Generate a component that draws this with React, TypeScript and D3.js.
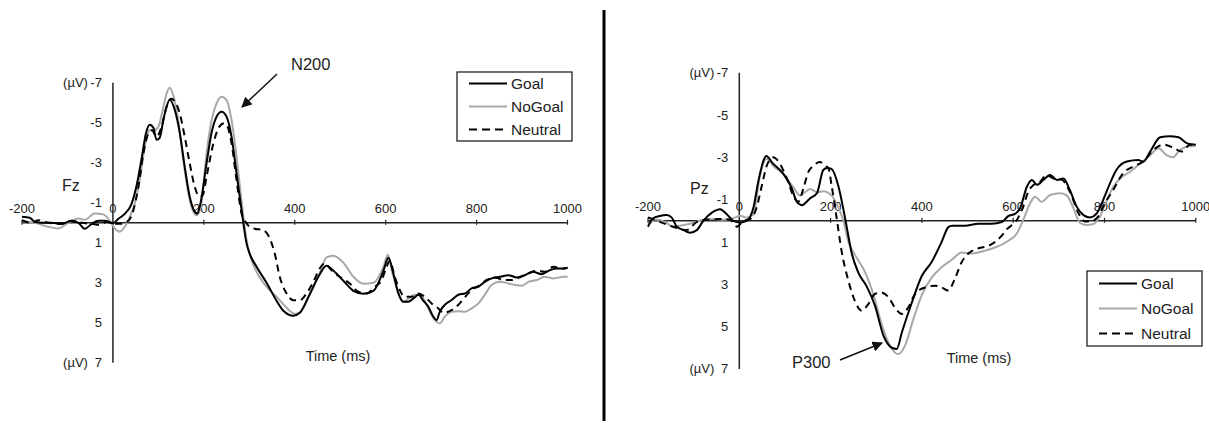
import React from "react";
import * as d3 from "d3";

// time axis / voltage axis
const timeTicks = [-200, 0, 200, 400, 600, 800, 1000];
const uvTicks = [-7, -5, -3, -1, 1, 3, 5, 7];
const seriesNames = ["Goal", "NoGoal", "Neutral"];

// Fz  [ms, µV]
const fzGoal: [number, number][] = [
  [-200, -0.3], [-183, -0.25], [-172, -0.05], [-157, 0], [-135, 0], [-113, 0.05], [-91, -0.1], [-76, 0],
  [-62, 0.3], [-47, 0.06], [-32, -0.1], [-18, -0.1], [0, 0.02], [12, -0.2], [26, -0.45], [41, -0.95],
  [52, -1.85], [63, -3.2], [73, -4.5], [81, -4.9], [89, -4.75], [96, -4.15], [103, -4.25], [111, -5.15],
  [118, -5.8], [125, -6.15], [136, -5.65], [147, -4.5], [158, -2.8], [169, -1.3], [180, -0.55], [185, -0.45],
  [192, -0.9], [206, -2.97], [217, -4.5], [228, -5.3], [239, -5.55], [250, -5.3], [261, -4.3], [272, -2.47],
  [281, -0.97], [287, 0.03], [294, 1.03], [301, 1.55], [316, 2.2], [338, 3.0], [360, 3.9], [375, 4.4],
  [397, 4.65], [411, 4.5], [433, 3.57], [455, 2.57], [470, 2.15], [485, 2.4], [507, 2.9], [529, 3.4],
  [551, 3.55], [573, 3.4], [595, 2.4], [606, 1.75], [617, 2.53], [628, 3.53], [639, 3.95], [650, 3.95],
  [661, 3.78], [672, 3.6], [683, 3.9], [694, 4.2], [705, 4.7], [712, 4.87], [719, 4.45], [730, 4.1],
  [745, 3.86], [760, 3.6], [775, 3.53], [789, 3.28], [804, 3.2], [818, 2.95], [833, 2.78], [851, 2.7],
  [870, 2.62], [888, 2.73], [906, 2.62], [924, 2.45], [943, 2.57], [961, 2.37], [976, 2.28], [991, 2.28],
  [1000, 2.25],
];
const fzNoGoal: [number, number][] = [
  [-200, -0.08], [-172, 0], [-142, 0.2], [-120, 0.28], [-98, 0], [-76, -0.22], [-62, -0.15], [-40, -0.47],
  [-21, -0.42], [-7, -0.1], [4, 0.28], [15, 0.45], [26, 0.2], [37, -0.3], [48, -0.97], [59, -2.13],
  [70, -3.8], [81, -4.63], [91, -4.63], [100, -4.8], [111, -5.8], [120, -6.6], [125, -6.75], [133, -6.35],
  [144, -5.1], [155, -3.1], [166, -1.45], [177, -0.55], [184, -0.38], [193, -0.75], [206, -3.47], [217, -5.13],
  [228, -5.97], [239, -6.3], [250, -6.13], [261, -5.13], [272, -3.3], [281, -1.47], [287, -0.3], [294, 0.87],
  [305, 1.87], [316, 2.45], [338, 3.2], [360, 3.7], [380, 4.2], [400, 4.55], [411, 4.5], [433, 3.57],
  [455, 2.5], [470, 1.73], [485, 1.65], [507, 2.0], [529, 2.7], [551, 3.05], [573, 3.0], [595, 2.2],
  [605, 1.6], [613, 2.36], [628, 3.53], [639, 3.95], [650, 3.8], [664, 3.6], [675, 3.6], [686, 3.9],
  [697, 4.45], [708, 4.87], [719, 5.03], [730, 4.7], [745, 4.45], [760, 4.42], [775, 4.45], [789, 4.28],
  [804, 4.03], [818, 3.6], [833, 3.11], [851, 2.95], [870, 3.03], [884, 3.11], [899, 3.15], [914, 2.95],
  [932, 2.86], [950, 2.7], [969, 2.78], [991, 2.7], [1000, 2.7],
];
const fzNeutral: [number, number][] = [
  [-200, -0.13], [-179, 0], [-164, -0.13], [-142, 0], [-113, 0.05], [-91, -0.1], [-69, 0], [-47, 0.05],
  [-29, 0.1], [-13, -0.05], [0, 0.05], [19, 0.05], [34, -0.1], [45, -0.63], [56, -1.8], [67, -3.47],
  [78, -4.47], [86, -4.63], [96, -4.3], [107, -4.8], [118, -5.8], [128, -6.2], [137, -6.05], [147, -5.47],
  [158, -4.3], [169, -2.97], [180, -1.8], [191, -1.3], [198, -1.4], [206, -2.3], [221, -3.97], [232, -4.72],
  [243, -4.97], [250, -4.9], [261, -3.97], [272, -2.13], [283, -0.47], [294, 0.03], [309, 0.28], [331, 0.37],
  [345, 0.78], [356, 1.53], [367, 2.7], [382, 3.53], [397, 3.87], [411, 3.87], [426, 3.53], [441, 2.95],
  [455, 2.28], [466, 2.03], [481, 2.37], [499, 2.7], [521, 3.03], [540, 3.45], [558, 3.53], [576, 3.2],
  [591, 2.87], [602, 2.2], [609, 1.9], [620, 2.7], [631, 3.36], [642, 3.7], [657, 3.7], [672, 3.53],
  [686, 3.7], [701, 4.03], [716, 4.28], [727, 4.5], [745, 4.37], [760, 4.1], [775, 3.7], [789, 3.36],
  [807, 3.11], [822, 2.86], [840, 2.73], [859, 2.86], [877, 2.86], [895, 2.73], [914, 2.53], [932, 2.4],
  [950, 2.45], [969, 2.2], [987, 2.3], [1000, 2.25],
];

// Pz  [ms, µV]
const pzGoal: [number, number][] = [
  [-200, 0.28], [-189, -0.12], [-174, -0.23], [-159, -0.27], [-148, -0.15], [-137, 0.28], [-122, 0.44], [-108, 0.56],
  [-93, 0.44], [-79, 0], [-60, -0.39], [-42, -0.55], [-28, -0.32], [-13, 0], [2, 0.08], [16, 0],
  [31, -0.63], [42, -1.9], [53, -2.85], [59, -3.06], [74, -2.7], [96, -2.24], [115, -1.53], [126, -0.9],
  [137, -0.74], [155, -1.06], [170, -1.3], [184, -2.4], [192, -2.5], [202, -2.45], [217, -1.64], [228, -0.54],
  [235, 0.25], [246, 1.51], [261, 2.46], [279, 3.1], [297, 4.0], [316, 5.44], [334, 6.0], [345, 6.06],
  [356, 5.28], [378, 3.86], [400, 2.6], [421, 1.96], [443, 1.01], [458, 0.3], [466, 0.23], [494, 0.23],
  [524, 0.14], [553, 0.14], [575, 0.06], [589, -0.22], [604, -0.33], [615, -0.59], [630, -1.61], [641, -1.93],
  [652, -1.7], [666, -1.93], [681, -2.17], [696, -1.93], [710, -2.0], [724, -1.46], [739, -0.67], [754, -0.27],
  [768, -0.16], [783, -0.35], [797, -0.98], [812, -1.77], [826, -2.4], [849, -2.8], [874, -2.87], [885, -2.8],
  [900, -3.27], [922, -3.95], [943, -4.0], [962, -3.95], [981, -3.66], [1000, -3.6],
];
const pzNoGoal: [number, number][] = [
  [-200, 0.2], [-182, -0.06], [-163, 0.05], [-145, 0.28], [-122, 0.2], [-101, 0.1], [-79, -0.05], [-57, -0.08],
  [-35, -0.05], [-13, -0.12], [2, -0.24], [16, -0.15], [31, -0.3], [45, -2.1], [60, -2.93], [74, -2.6],
  [96, -2.2], [118, -1.6], [133, -1.2], [144, -1.35], [155, -1.5], [170, -1.35], [184, -1.4], [202, -1.2],
  [217, -0.63], [228, 0], [239, 1.0], [253, 1.6], [275, 2.4], [294, 3.5], [312, 4.9], [330, 5.9],
  [348, 6.3], [363, 5.9], [382, 4.6], [400, 3.5], [421, 2.7], [443, 2.2], [466, 1.83], [487, 1.5],
  [509, 1.55], [531, 1.45], [556, 1.3], [586, 0.99], [608, 0.6], [622, -0.04], [637, -0.83], [648, -1.14],
  [662, -0.9], [681, -1.22], [703, -1.3], [717, -1.2], [732, -0.6], [746, 0.09], [761, 0.2], [776, 0.15],
  [790, -0.2], [805, -0.98], [819, -1.6], [834, -2.0], [856, -2.32], [878, -2.7], [900, -3.1], [918, -3.43],
  [936, -3.1], [950, -3.0], [965, -3.35], [981, -3.5], [1000, -3.55],
];
const pzNeutral: [number, number][] = [
  [-200, -0.16], [-174, 0.05], [-145, 0.28], [-115, 0.44], [-93, 0.05], [-71, -0.05], [-42, -0.08], [-20, -0.05],
  [-5, 0.28], [9, 0], [23, -0.08], [38, -0.63], [49, -1.63], [60, -2.6], [67, -2.9], [74, -3.0],
  [89, -2.7], [104, -2.0], [118, -1.2], [129, -0.9], [140, -1.5], [151, -2.3], [162, -2.6], [177, -2.78],
  [188, -2.6], [195, -2.5], [202, -1.7], [213, -0.16], [224, 1.42], [239, 2.84], [253, 3.77], [268, 4.25],
  [283, 3.93], [297, 3.46], [312, 3.4], [327, 3.62], [341, 4.1], [356, 4.4], [370, 4.1], [385, 3.46],
  [407, 3.15], [429, 3.07], [443, 3.15], [458, 3.3], [472, 2.75], [487, 1.96], [502, 1.55], [524, 1.3],
  [546, 1.18], [560, 1.0], [575, 0.7], [586, 0.4], [608, -0.04], [622, -0.67], [633, -1.38], [645, -1.7],
  [659, -1.85], [673, -2.17], [688, -2.0], [706, -1.95], [724, -1.38], [743, -0.36], [757, 0.03], [772, 0],
  [786, -0.2], [801, -0.83], [819, -1.46], [841, -2.25], [863, -2.57], [885, -2.8], [907, -3.35], [929, -3.6],
  [951, -3.45], [969, -3.27], [987, -3.6], [1000, -3.55],
];

const FONT = "'Liberation Sans', Arial, sans-serif";
const styles = [
  { stroke: "#000", dash: undefined as string | undefined },
  { stroke: "#a8a8a8", dash: undefined as string | undefined },
  { stroke: "#000", dash: "7,5" },
];

type PanelProps = {
  site: string;
  data: [number, number][][];
  xRange: [number, number];
  yRange: [number, number];
  siteXY: [number, number];
  timeXY: [number, number];
  legend: { x: number; y: number; h: number };
  note: { text: string; tx: number; ty: number; from: [number, number]; to: [number, number] };
};

const Panel = ({ site, data, xRange, yRange, siteXY, timeXY, legend, note }: PanelProps) => {
  const x = d3.scaleLinear().domain([-200, 1000]).range(xRange);
  const y = d3.scaleLinear().domain([-7, 7]).range(yRange);
  const line = d3
    .line<[number, number]>()
    .x((d) => x(d[0]))
    .y((d) => y(d[1]))
    .curve(d3.curveMonotoneX);
  const x0 = x(0);
  const y0 = y(0);
  const step = legend.h / 3;
  // draw gray first, then dashed, black on top
  const order = [1, 2, 0];

  return (
    <g fontFamily={FONT} fill="#222">
      {/* axes */}
      <line x1={x0} x2={x0} y1={y(-7)} y2={y(7)} stroke="#222" strokeWidth={1.5} />
      <line x1={x(-200)} x2={x(1000)} y1={y0} y2={y0} stroke="#222" strokeWidth={1.5} />
      {timeTicks.map((t) => (
        <g key={t}>
          {t !== 0 && <line x1={x(t)} x2={x(t)} y1={y0 - 3} y2={y0 + 2} stroke="#222" strokeWidth={1.2} />}
          <text x={x(t)} y={y0 - 10} fontSize={13} textAnchor="middle">
            {t}
          </text>
        </g>
      ))}
      {uvTicks.map((v) => (
        <text key={v} x={x0 - 11} y={y(v)} dy="0.35em" fontSize={13} textAnchor="end">
          {v}
        </text>
      ))}
      <text x={x0 - 25} y={y(-7)} dy="0.35em" fontSize={13} textAnchor="end">(µV)</text>
      <text x={x0 - 25} y={y(7)} dy="0.35em" fontSize={13} textAnchor="end">(µV)</text>
      <text x={siteXY[0]} y={siteXY[1]} fontSize={16}>{site}</text>
      <text x={timeXY[0]} y={timeXY[1]} fontSize={14.5} textAnchor="middle">Time (ms)</text>

      {/* waveforms */}
      {order.map((i) => (
        <path
          key={i}
          d={line(data[i]) ?? ""}
          fill="none"
          stroke={styles[i].stroke}
          strokeWidth={2}
          strokeDasharray={styles[i].dash}
        />
      ))}

      {/* annotation */}
      <text x={note.tx} y={note.ty} fontSize={16.5}>{note.text}</text>
      <line
        x1={note.from[0]}
        y1={note.from[1]}
        x2={note.to[0]}
        y2={note.to[1]}
        stroke="#111"
        strokeWidth={1.5}
        markerEnd="url(#arrow)"
      />

      {/* legend */}
      <rect x={legend.x} y={legend.y} width={115} height={legend.h} fill="#fff" stroke="#222" strokeWidth={1.3} />
      {seriesNames.map((name, i) => {
        const ly = legend.y + step * (i + 0.5);
        return (
          <g key={name}>
            <line
              x1={legend.x + 12}
              x2={legend.x + 50}
              y1={ly}
              y2={ly}
              stroke={styles[i].stroke}
              strokeWidth={2.2}
              strokeDasharray={styles[i].dash ? "8,5" : undefined}
            />
            <text x={legend.x + 54} y={ly} dy="0.35em" fontSize={15.5}>
              {name}
            </text>
          </g>
        );
      })}
    </g>
  );
};

export default function App() {
  return (
    <svg
      width={1209}
      height={423}
      style={{ position: "absolute", left: 0, top: 0, background: "#fff" }}
    >
      <defs>
        <marker id="arrow" viewBox="0 0 10 10" refX={9} refY={5} markerWidth={7} markerHeight={7} orient="auto">
          <path d="M0,0 L10,5 L0,10 z" fill="#111" />
        </marker>
      </defs>
      <rect width={1209} height={423} fill="#fff" />
      <Panel
        site="Fz"
        data={[fzGoal, fzNoGoal, fzNeutral]}
        xRange={[22, 567.5]}
        yRange={[82.8, 362.8]}
        siteXY={[62, 191]}
        timeXY={[338, 361]}
        legend={{ x: 457, y: 72, h: 69 }}
        note={{ text: "N200", tx: 291, ty: 70, from: [277, 74], to: [242, 107] }}
      />
      <Panel
        site="Pz"
        data={[pzGoal, pzNoGoal, pzNeutral]}
        xRange={[648, 1195.8]}
        yRange={[72.7, 368.9]}
        siteXY={[690, 194]}
        timeXY={[979, 363]}
        legend={{ x: 1087, y: 271, h: 75 }}
        note={{ text: "P300", tx: 792, ty: 368, from: [840, 360], to: [882, 343] }}
      />
      <line x1={604} x2={604} y1={10} y2={421} stroke="#000" strokeWidth={3} />
    </svg>
  );
}
